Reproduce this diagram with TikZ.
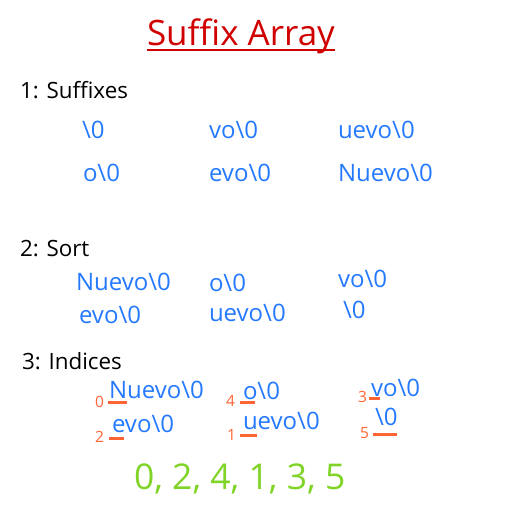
\documentclass[tikz,border=0pt]{standalone}
\usepackage{fontspec}
\setmainfont{Open Sans}
\definecolor{titlered}{HTML}{D00000}
\definecolor{itemblue}{HTML}{2479FF}
\definecolor{idxorange}{HTML}{FF6433}
\definecolor{resgreen}{HTML}{80D428}
\tikzset{
  txt/.style={anchor=base west, inner sep=0pt, outer sep=0pt},
  titletext/.style={txt, text=titlered, font=\fontsize{35}{40}\selectfont},
  headtext/.style={txt, text=black, font=\fontsize{22.4}{26}\selectfont},
  item/.style={txt, text=itemblue, font=\fontsize{24}{28}\selectfont},
  idx/.style={txt, text=idxorange, font=\fontsize{15.5}{18}\selectfont},
  mark line/.style={draw=idxorange, line width=3pt},
  result/.style={txt, text=resgreen, font=\fontsize{35.5}{40}\selectfont},
}
\begin{document}
\begin{tikzpicture}[x=1pt,y=-1pt]
\useasboundingbox (0,0) rectangle (512,512);
% title
\node[titletext] (title) at (147,45) {Suffix Array};
\draw[titlered, line width=2pt] ([yshift=-4.5pt]title.base west) -- ([yshift=-4.5pt]title.base east);
% section 1
\node[headtext] (h1) at (20,98) {1: Suffixes};
\node[item] (s1a) at (82,138) {\textbackslash0};
\node[item] (s1b) at (209,138) {vo\textbackslash0};
\node[item] (s1c) at (338,138) {uevo\textbackslash0};
\node[item] (s1d) at (83,181) {o\textbackslash0};
\node[item] (s1e) at (209,181) {evo\textbackslash0};
\node[item] (s1f) at (338,181) {Nuevo\textbackslash0};
% section 2
\node[headtext] (h2) at (20,256) {2: Sort};
\node[item] (s2a) at (76,290) {Nuevo\textbackslash0};
\node[item] (s2b) at (209,291) {o\textbackslash0};
\node[item] (s2c) at (338,287) {vo\textbackslash0};
\node[item] (s2d) at (79,323) {evo\textbackslash0};
\node[item] (s2e) at (209,321) {uevo\textbackslash0};
\node[item] (s2f) at (343,318) {\textbackslash0};
% section 3
\node[headtext] (h3) at (22,369) {3: Indices};
\node[item] (s3a) at (109,398) {Nuevo\textbackslash0};
\node[item] (s3b) at (243,399) {o\textbackslash0};
\node[item] (s3c) at (371,396) {vo\textbackslash0};
\node[item] (s3d) at (112,432) {evo\textbackslash0};
\node[item] (s3e) at (243,429) {uevo\textbackslash0};
\node[item] (s3f) at (375,425) {\textbackslash0};
\node[idx] (i0) at (95,407) {0};
\node[idx] (i4) at (226,406) {4};
\node[idx] (i3) at (358,402) {3};
\node[idx] (i2) at (95,442) {2};
\node[idx] (i1) at (227,440) {1};
\node[idx] (i5) at (360,438) {5};
\draw[mark line] (108,402) -- (127,402);
\draw[mark line] (240,402) -- (255,402);
\draw[mark line] (369,398) -- (380,398);
\draw[mark line] (109,438) -- (124,438);
\draw[mark line] (240,435) -- (257,435);
\draw[mark line] (373,434) -- (397,434);
% result
\node[result] (res) at (134,489) {0, 2, 4, 1, 3, 5};
\end{tikzpicture}
\end{document}
